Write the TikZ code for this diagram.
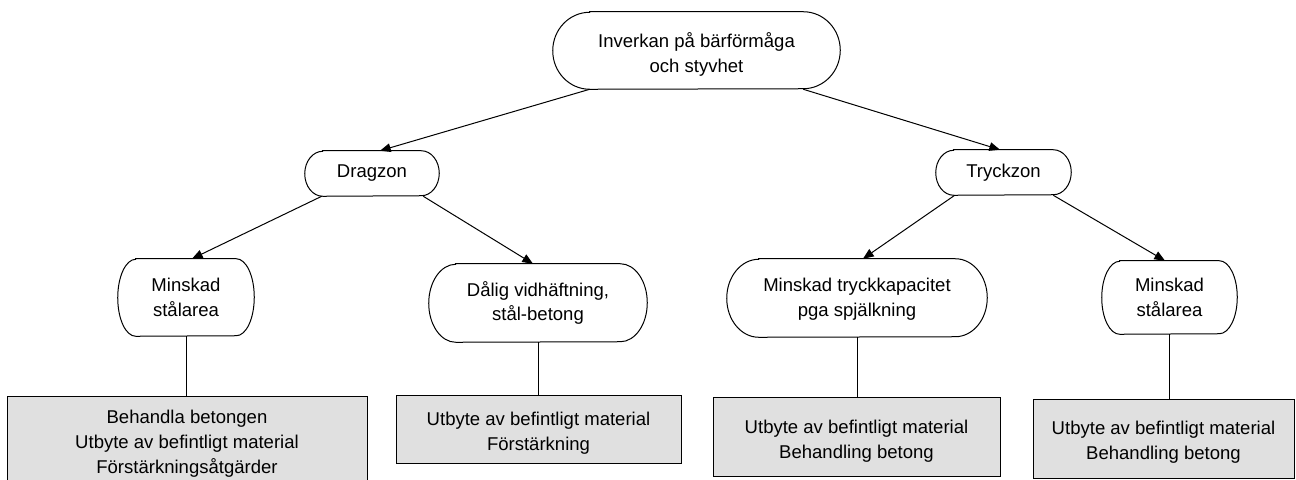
\documentclass[tikz,border=0pt]{standalone}
\usepackage{fontspec}
\setmainfont{Liberation Sans}
\usetikzlibrary{arrows.meta}
\definecolor{boxgray}{RGB}{224,224,224}
\newcommand\termshape[3]{%
  \draw[outline] ([xshift=#2*0.75pt]#1.north west) -- ([xshift=-#2*0.75pt]#1.north east)
    arc[start angle=90,end angle=-90,x radius=#2*0.75pt,y radius=#3*0.75pt]
    -- ([xshift=#2*0.75pt]#1.south west)
    arc[start angle=270,end angle=90,x radius=#2*0.75pt,y radius=#3*0.75pt] -- cycle;}
\begin{document}
\begin{tikzpicture}[x=0.75pt,y=-0.75pt,
  outline/.style={draw=black,line width=0.75pt},
  txt/.style={inner sep=0pt,align=center,font=\fontsize{13.9}{18.6}\selectfont},
  term/.style 2 args={inner sep=0pt,minimum width=#1*0.75pt,minimum height=#2*0.75pt},
  fixbox/.style 2 args={draw=black,line width=0.75pt,fill=boxgray,inner sep=0pt,
    minimum width=#1*0.75pt,minimum height=#2*0.75pt},
  arr/.style={line width=0.75pt,-{Triangle[length=8pt,width=6.5pt]}},
  conn/.style={line width=0.75pt}]
\useasboundingbox (0,0) rectangle (1296,479);
\clip (0,0) rectangle (1296,479);
% terminator nodes
\node[term={287}{77},label={[txt,yshift=-4*0.75pt]center:Inverkan på bärförmåga\\och styvhet}] (top) at (696.5,50.5) {};
\node[term={134}{45},label={[txt]center:Dragzon}] (drag) at (372,173.5) {};
\node[term={135}{45},label={[txt]center:Tryckzon}] (tryck) at (1003.5,172.5) {};
\node[term={136}{77},label={[txt]center:Minskad\\stålarea}] (m1) at (186,297.5) {};
\node[term={218}{78},label={[txt]center:Dålig vidhäftning,\\stål-betong}] (dal) at (538,303) {};
\node[term={260}{78},label={[txt,yshift=-1*0.75pt]center:Minskad tryckkapacitet\\pga spjälkning}] (tk) at (857,298) {};
\node[term={135}{73},label={[txt]center:Minskad\\stålarea}] (m2) at (1169.5,297.5) {};
\termshape{top}{37}{38.5}
\termshape{drag}{18}{22.5}
\termshape{tryck}{18}{22.5}
\termshape{m1}{18}{38.5}
\termshape{dal}{27}{39}
\termshape{tk}{32}{39}
\termshape{m2}{18}{36.5}
% boxes
\node[fixbox={360}{90},label={[txt,yshift=-3*0.75pt]center:Behandla betongen\\Utbyte av befintligt material\\Förstärkningsåtgärder}] (b1) at (187,441) {};
\node[fixbox={285}{68},label={[txt,yshift=-4*0.75pt]center:Utbyte av befintligt material\\Förstärkning}] (b2) at (538.5,429) {};
\node[fixbox={287}{79},label={[txt,yshift=-5*0.75pt]center:Utbyte av befintligt material\\Behandling betong}] (b3) at (856.5,436.5) {};
\node[fixbox={261}{79},label={[txt,yshift=-4*0.75pt]center:Utbyte av befintligt material\\Behandling betong}] (b4) at (1163.5,438.5) {};
% arrows
\draw[arr] ([xshift=37*0.75pt]top.south west) -- ([xshift=8*0.75pt]drag.north);
\draw[arr] ([xshift=-37*0.75pt]top.south east) -- ([xshift=-3.5*0.75pt]tryck.north);
\draw[arr] ([xshift=17*0.75pt]drag.south west) -- ([xshift=6*0.75pt]m1.north);
\draw[arr] ([xshift=-16*0.75pt]drag.south east) -- ([xshift=-5*0.75pt]dal.north);
\draw[arr] ([xshift=19*0.75pt]tryck.south west) -- ([xshift=6*0.75pt]tk.north);
\draw[arr] ([xshift=-18*0.75pt]tryck.south east) -- ([xshift=-4.5*0.75pt]m2.north);
% vertical connectors
\draw[conn] (m1.south) -- (m1.south |- b1.north);
\draw[conn] (dal.south) -- (dal.south |- b2.north);
\draw[conn] (tk.south) -- (tk.south |- b3.north);
\draw[conn] (m2.south) -- (m2.south |- b4.north);
\end{tikzpicture}
\end{document}
